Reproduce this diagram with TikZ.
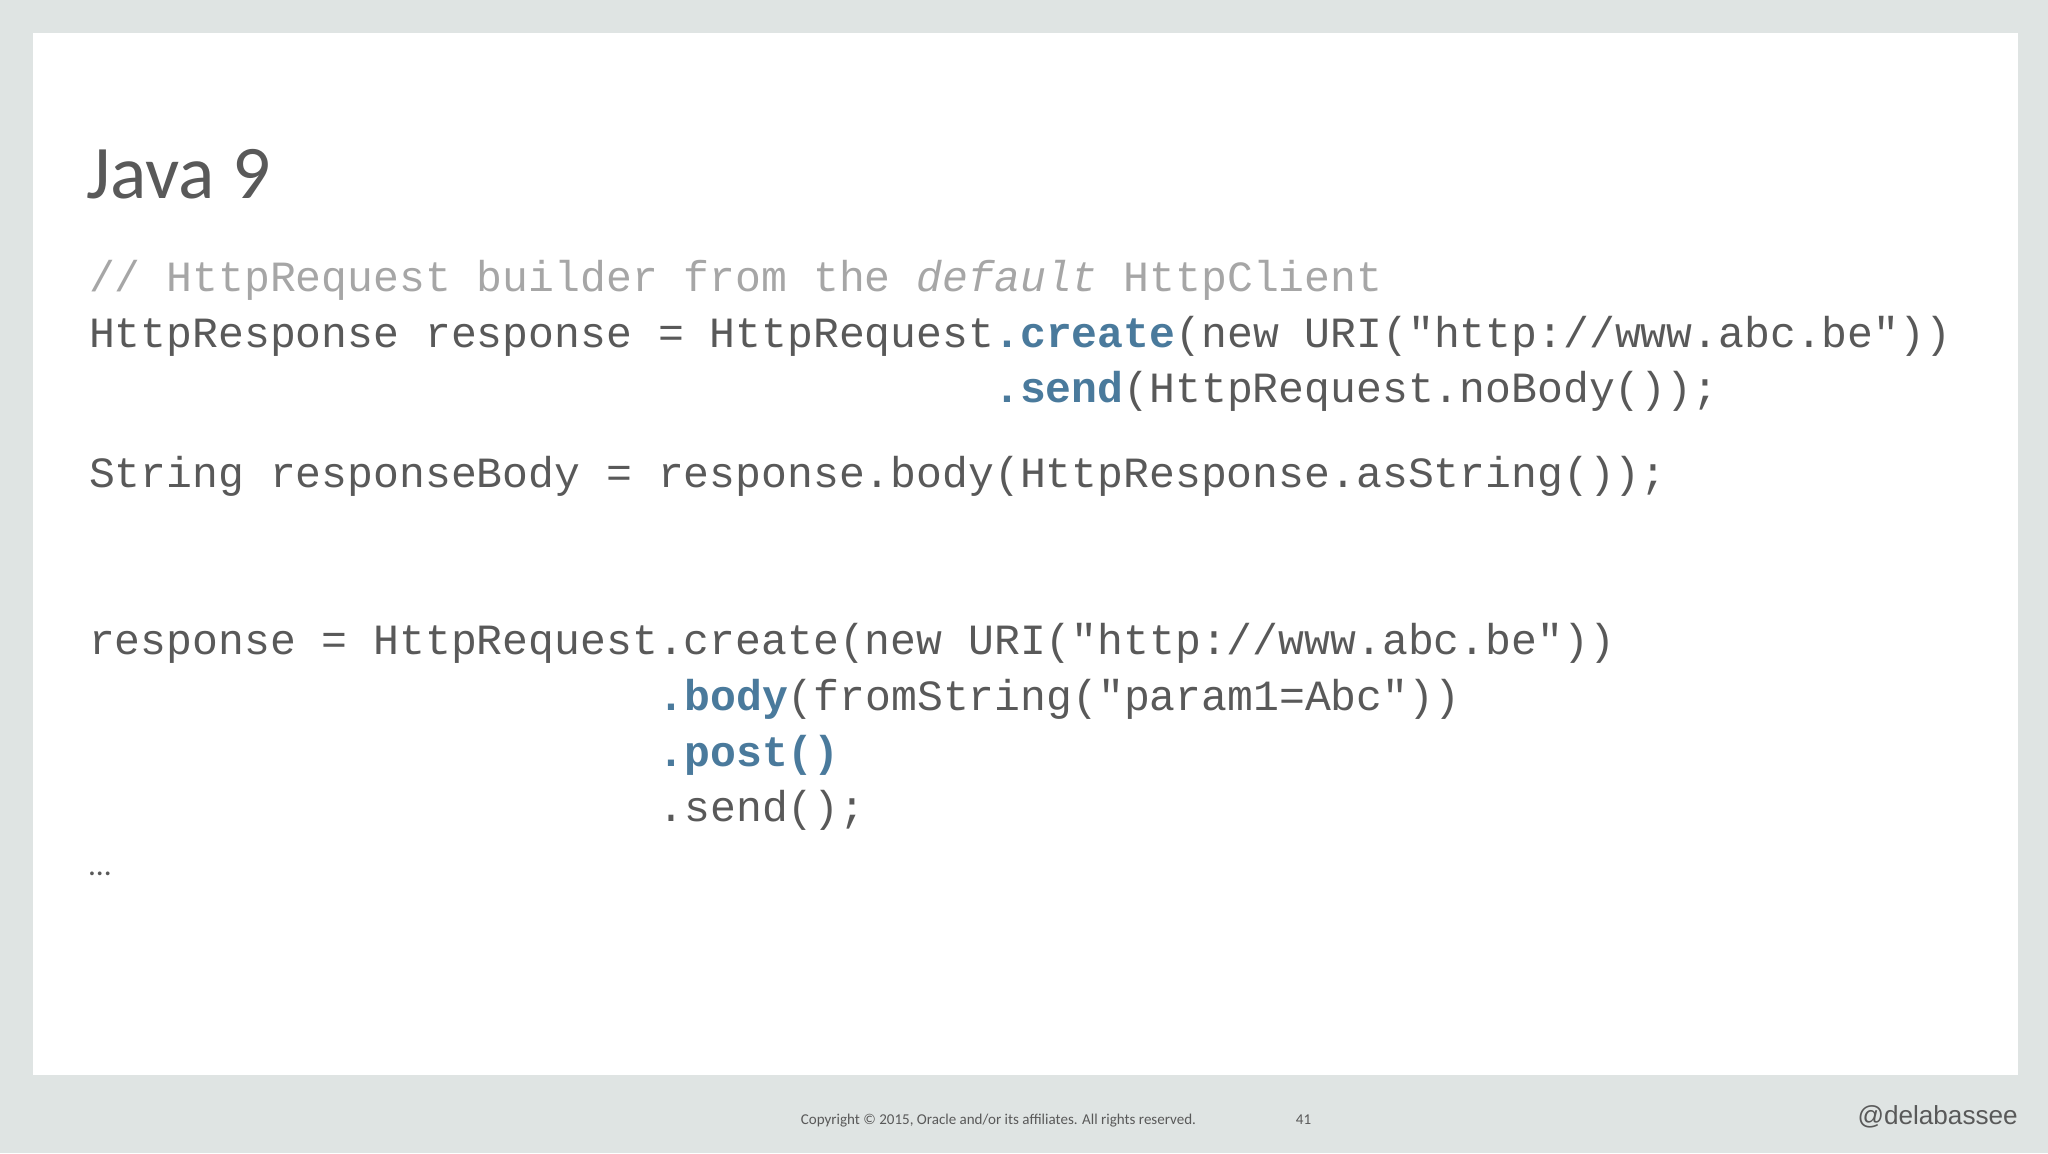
\documentclass[tikz,border=0pt]{standalone}
\usepackage{fontspec}
\setmainfont{Carlito}
\setmonofont{Liberation Mono}
\newfontfamily\arialf{Liberation Sans}
\definecolor{bgc}{HTML}{DFE4E3}
\definecolor{codec}{HTML}{595959}
\definecolor{commc}{HTML}{A6A6A6}
\definecolor{kwc}{HTML}{4A7A9C}
\begin{document}
\begin{tikzpicture}[x=1pt,y=-1pt,
  code/.style={anchor=base west,inner sep=0pt,text=codec,font=\ttfamily\fontsize{33}{38}\selectfont},
  foot/.style={anchor=base west,inner sep=0pt,text=codec,font=\fontsize{11.5}{13}\selectfont}]
\fill[bgc] (0,0) rectangle (1568,883);
\fill[white] (25,25) rectangle (1545,823);
\node[anchor=base west,inner sep=0pt,text=codec,font=\fontsize{58}{64}\selectfont] (title) at (66,152) {Java 9};
\newcommand\kw[1]{\textcolor{kwc}{\bfseries #1}}
\node[code,text=commc] (l1) at (68,223) {// HttpRequest builder from the \textit{default} HttpClient};
\node[code] (l2) at (68,266) {HttpResponse response = HttpRequest\kw{.create}(new URI("http://www.abc.be"))};
\node[code] (l3) at (761,308) {\kw{.send}(HttpRequest.noBody());};
\node[code] (l4) at (68,373) {String responseBody = response.body(HttpResponse.asString());};
\node[code] (l5) at (68,501) {response = HttpRequest.create(new URI("http://www.abc.be"))};
\node[code] (l6) at (504,544) {\kw{.body}(fromString("param1=Abc"))};
\node[code] (l7) at (504,587) {\kw{.post()}};
\node[code] (l8) at (504,629) {.send();};
\node[anchor=base west,inner sep=0pt,text=codec,font=\fontsize{24}{28}\selectfont] (dots) at (68,670) {…};
\node[foot] (copy) at (613,861) {Copyright © 2015, Oracle and/or its affiliates. All rights reserved.};
\node[foot] (pg) at (992,861) {41};
\node[anchor=base east,inner sep=0pt,text=codec,font=\arialf\fontsize{20}{24}\selectfont] (tw) at (1545,861) {@delabassee};
\end{tikzpicture}
\end{document}
